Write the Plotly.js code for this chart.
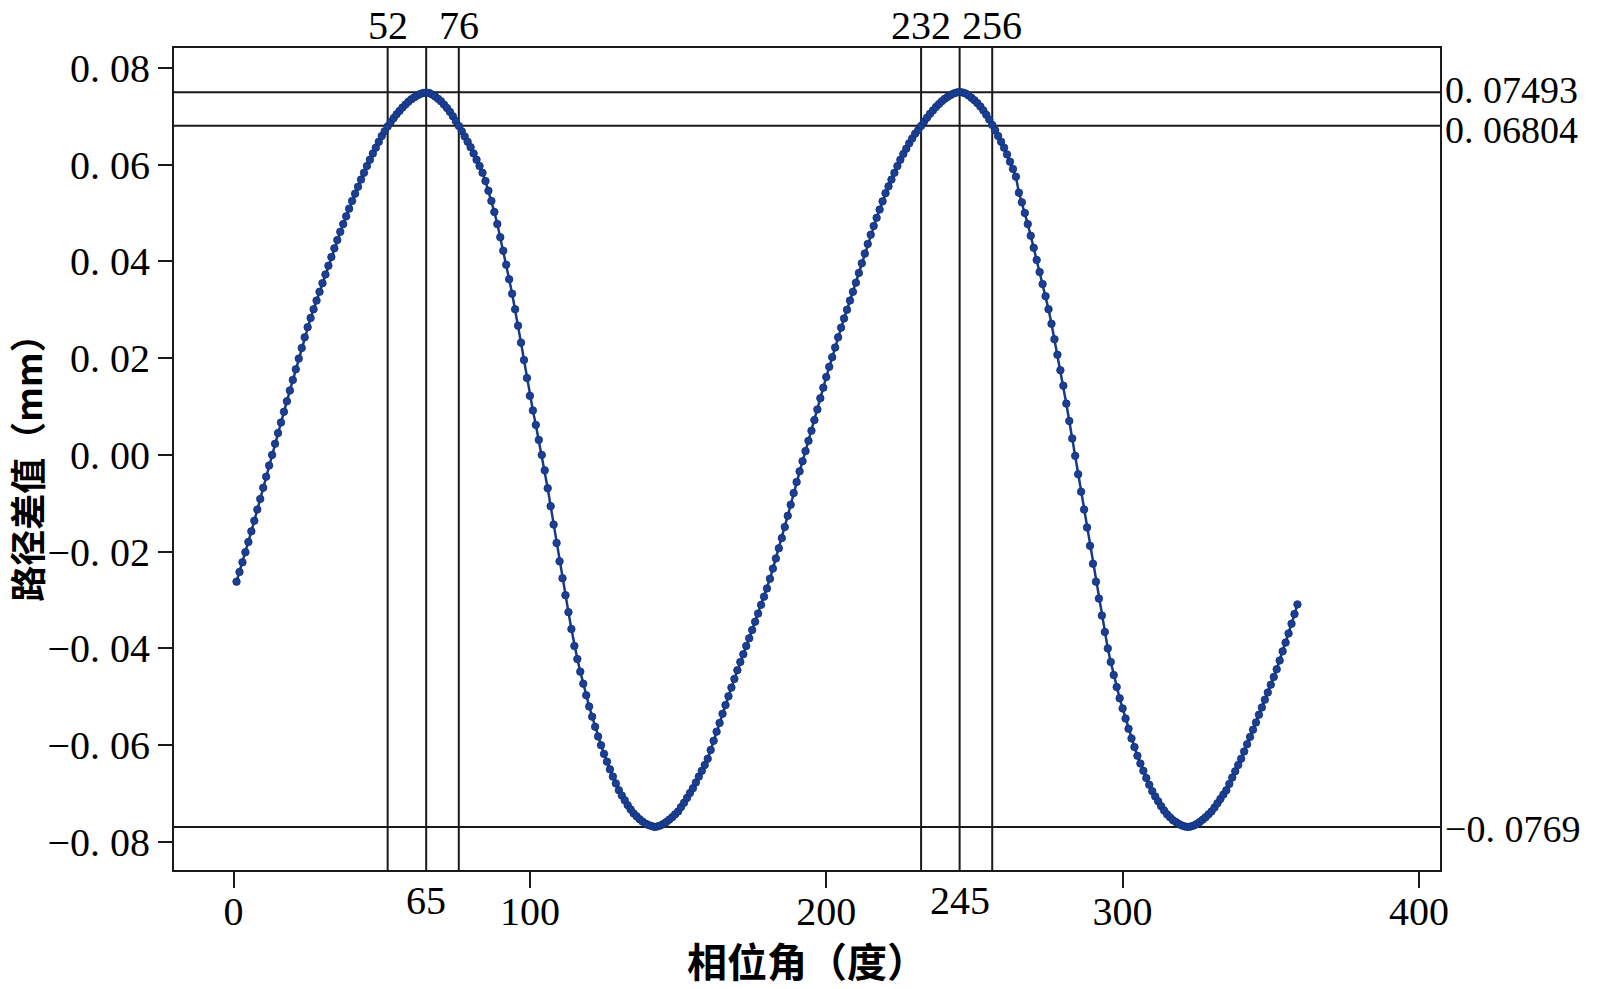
<!DOCTYPE html>
<html>
<head>
<meta charset="utf-8">
<script src="https://cdn.plot.ly/plotly-3.0.1.min.js"></script>
<style>
  html, body { margin: 0; padding: 0; background: #ffffff; }
  #chart { width: 1600px; height: 989px; }
</style>
</head>
<body>
<div id="chart"></div>
<script>
// Phase angle starts at 1 degree, one sample per degree
const firstAngle = 1;

// Path difference values (mm), one per degree (1..359)
const pathDiff = [
  -0.0262, -0.0242, -0.0222, -0.0201, -0.0180, -0.0158, -0.0136, -0.0113, -0.0091, -0.0068,
  -0.0045, -0.0022,  0.0000,  0.0023,  0.0045,  0.0067,  0.0089,  0.0111,  0.0133,  0.0155,
   0.0177,  0.0199,  0.0221,  0.0243,  0.0264,  0.0283,  0.0301,  0.0319,  0.0337,  0.0355,
   0.0373,  0.0391,  0.0409,  0.0427,  0.0444,  0.0461,  0.0477,  0.0493,  0.0509,  0.0525,
   0.0540,  0.0554,  0.0569,  0.0583,  0.0597,  0.0610,  0.0623,  0.0635,  0.0647,  0.0659,
   0.0669,  0.0679,  0.0688,  0.0696,  0.0704,  0.0711,  0.0718,  0.0724,  0.0730,  0.0735,
   0.0739,  0.0743,  0.0746,  0.0748,  0.0749,  0.0748,  0.0745,  0.0741,  0.0736,  0.0731,
   0.0724,  0.0717,  0.0709,  0.0700,  0.0690,  0.0680,  0.0669,  0.0658,  0.0647,  0.0636,
   0.0623,  0.0610,  0.0597,  0.0583,  0.0566,  0.0546,  0.0525,  0.0502,  0.0477,  0.0450,
   0.0422,  0.0393,  0.0363,  0.0333,  0.0301,  0.0267,  0.0232,  0.0196,  0.0159,  0.0122,
   0.0092,  0.0062,  0.0031,  0.0000, -0.0032, -0.0069, -0.0106, -0.0144, -0.0182, -0.0220,
  -0.0255, -0.0290, -0.0325, -0.0360, -0.0395, -0.0422, -0.0448, -0.0473, -0.0497, -0.0520,
  -0.0541, -0.0562, -0.0582, -0.0600, -0.0618, -0.0634, -0.0650, -0.0665, -0.0679, -0.0693,
  -0.0704, -0.0714, -0.0724, -0.0733, -0.0741, -0.0747, -0.0753, -0.0758, -0.0762, -0.0765,
  -0.0767, -0.0769, -0.0768, -0.0766, -0.0763, -0.0759, -0.0754, -0.0749, -0.0743, -0.0737,
  -0.0728, -0.0719, -0.0709, -0.0699, -0.0689, -0.0677, -0.0665, -0.0653, -0.0641, -0.0628,
  -0.0610, -0.0591, -0.0572, -0.0554, -0.0535, -0.0517, -0.0499, -0.0481, -0.0463, -0.0445,
  -0.0428, -0.0412, -0.0395, -0.0379, -0.0362, -0.0345, -0.0328, -0.0310, -0.0293, -0.0276,
  -0.0256, -0.0235, -0.0214, -0.0193, -0.0172, -0.0149, -0.0126, -0.0103, -0.0079, -0.0056,
  -0.0034, -0.0013,  0.0008,  0.0029,  0.0050,  0.0072,  0.0094,  0.0117,  0.0139,  0.0161,
   0.0182,  0.0202,  0.0222,  0.0243,  0.0263,  0.0282,  0.0300,  0.0319,  0.0337,  0.0356,
   0.0376,  0.0396,  0.0416,  0.0436,  0.0455,  0.0473,  0.0490,  0.0507,  0.0524,  0.0541,
   0.0555,  0.0569,  0.0583,  0.0597,  0.0610,  0.0622,  0.0633,  0.0644,  0.0654,  0.0664,
   0.0671,  0.0680,  0.0689,  0.0697,  0.0705,  0.0712,  0.0719,  0.0725,  0.0731,  0.0736,
   0.0740,  0.0744,  0.0747,  0.0749,  0.0750,  0.0749,  0.0747,  0.0743,  0.0738,  0.0733,
   0.0727,  0.0720,  0.0712,  0.0703,  0.0693,  0.0682,  0.0671,  0.0659,  0.0647,  0.0635,
   0.0621,  0.0606,  0.0591,  0.0575,  0.0542,  0.0522,  0.0500,  0.0477,  0.0453,  0.0428,
   0.0403,  0.0378,  0.0353,  0.0328,  0.0301,  0.0271,  0.0239,  0.0207,  0.0175,  0.0143,
   0.0106,  0.0070,  0.0034, -0.0002, -0.0040, -0.0076, -0.0113, -0.0150, -0.0188, -0.0225,
  -0.0262, -0.0297, -0.0332, -0.0366, -0.0400, -0.0428, -0.0455, -0.0480, -0.0503, -0.0524,
  -0.0545, -0.0566, -0.0586, -0.0604, -0.0622, -0.0638, -0.0653, -0.0668, -0.0682, -0.0695,
  -0.0706, -0.0716, -0.0726, -0.0735, -0.0743, -0.0749, -0.0755, -0.0759, -0.0763, -0.0766,
  -0.0768, -0.0769, -0.0768, -0.0766, -0.0763, -0.0759, -0.0754, -0.0749, -0.0743, -0.0737,
  -0.0729, -0.0720, -0.0711, -0.0702, -0.0693, -0.0680, -0.0667, -0.0654, -0.0641, -0.0628,
  -0.0613, -0.0598, -0.0583, -0.0568, -0.0553, -0.0537, -0.0522, -0.0506, -0.0491, -0.0475,
  -0.0459, -0.0443, -0.0425, -0.0406, -0.0388, -0.0369, -0.0349, -0.0329, -0.0309
];

// Marker lines
const topMarkAngles = [52, 76, 232, 256];      // labelled above the plot
const bottomMarkAngles = [65, 245];            // labelled below the plot
const levelValues = [0.07493, 0.06804, -0.0769];
const levelLabels = ['0. 07493', '0. 06804', '\u22120. 0769'];
const levelShift = [2, -4, -2];                // small vertical nudges in px

// Axis ticks
const xTickVals = [0, 100, 200, 300, 400];
const xTickText = ['0', '100', '200', '300', '400'];
const yTickVals = [-0.08, -0.06, -0.04, -0.02, 0, 0.02, 0.04, 0.06, 0.08];
const yTickText = ['\u22120. 08', '\u22120. 06', '\u22120. 04', '\u22120. 02', '0. 00', '0. 02', '0. 04', '0. 06', '0. 08'];

const xTitle = '相位角（度）';
const yTitle = '路径差值（mm）';

const angles = pathDiff.map((_, i) => firstAngle + i);

const numFont = 'Liberation Serif, Times New Roman, serif';
const cjkFont = 'Noto Sans CJK SC, sans-serif';
const lineColor = '#1a1a1a';

const trace = {
  x: angles,
  y: pathDiff,
  type: 'scatter',
  mode: 'lines+markers',
  line: { color: '#163b8c', width: 2.5 },
  marker: { color: '#1b3f95', size: 7.5, line: { color: '#0f2d72', width: 0.8 } },
  hoverinfo: 'x+y',
  showlegend: false
};

const allV = topMarkAngles.concat(bottomMarkAngles);
const shapes = [];
allV.forEach(a => shapes.push({
  type: 'line', xref: 'x', yref: 'paper', x0: a, x1: a, y0: 0, y1: 1,
  line: { color: lineColor, width: 2 }, layer: 'below'
}));
levelValues.forEach(v => shapes.push({
  type: 'line', xref: 'paper', yref: 'y', x0: 0, x1: 1, y0: v, y1: v,
  line: { color: lineColor, width: 2 }, layer: 'below'
}));

const annotations = [];
topMarkAngles.forEach(a => annotations.push({
  x: a, xref: 'x', y: 1, yref: 'paper', text: String(a), showarrow: false,
  xanchor: 'center', yanchor: 'bottom', yshift: -2,
  font: { family: numFont, size: 40, color: '#000' }
}));
bottomMarkAngles.forEach(a => annotations.push({
  x: a, xref: 'x', y: 0, yref: 'paper', text: String(a), showarrow: false,
  xanchor: 'center', yanchor: 'top', yshift: -6,
  font: { family: numFont, size: 40, color: '#000' }
}));
levelValues.forEach((v, i) => annotations.push({
  x: 1, xref: 'paper', y: v, yref: 'y', text: levelLabels[i], showarrow: false,
  xanchor: 'left', yanchor: 'middle', xshift: 4, yshift: levelShift[i],
  height: 32, borderpad: 0,
  font: { family: numFont, size: 38, color: '#000' }
}));

const layout = {
  width: 1600,
  height: 989,
  margin: { l: 174, r: 160, t: 48, b: 119, pad: 0 },
  paper_bgcolor: '#ffffff',
  plot_bgcolor: '#ffffff',
  showlegend: false,
  xaxis: {
    range: [-20.1, 407.1],
    tickmode: 'array',
    tickvals: xTickVals,
    ticktext: xTickText,
    ticks: 'outside',
    ticklen: 16,
    tickwidth: 2,
    tickcolor: lineColor,
    ticklabelstandoff: -11,
    showgrid: false,
    zeroline: false,
    showline: true,
    linecolor: lineColor,
    linewidth: 2,
    mirror: true,
    automargin: true,
    tickfont: { family: numFont, size: 40, color: '#000' },
    title: { text: xTitle, font: { family: cjkFont, size: 40, color: '#000', weight: 'bold' }, standoff: 4 }
  },
  yaxis: {
    range: [-0.0858, 0.0841],
    tickmode: 'array',
    tickvals: yTickVals,
    ticktext: yTickText,
    ticks: 'outside',
    ticklen: 14,
    tickwidth: 2,
    tickcolor: lineColor,
    showgrid: false,
    zeroline: false,
    showline: true,
    linecolor: lineColor,
    linewidth: 2,
    mirror: true,
    automargin: true,
    tickfont: { family: numFont, size: 40, color: '#000' },
    title: { text: yTitle, font: { family: cjkFont, size: 36, color: '#000', weight: 'bold' }, standoff: 11 }
  },
  shapes: shapes,
  annotations: annotations
};

Plotly.newPlot('chart', [trace], layout, { displayModeBar: false, staticPlot: true });
</script>
</body>
</html>
